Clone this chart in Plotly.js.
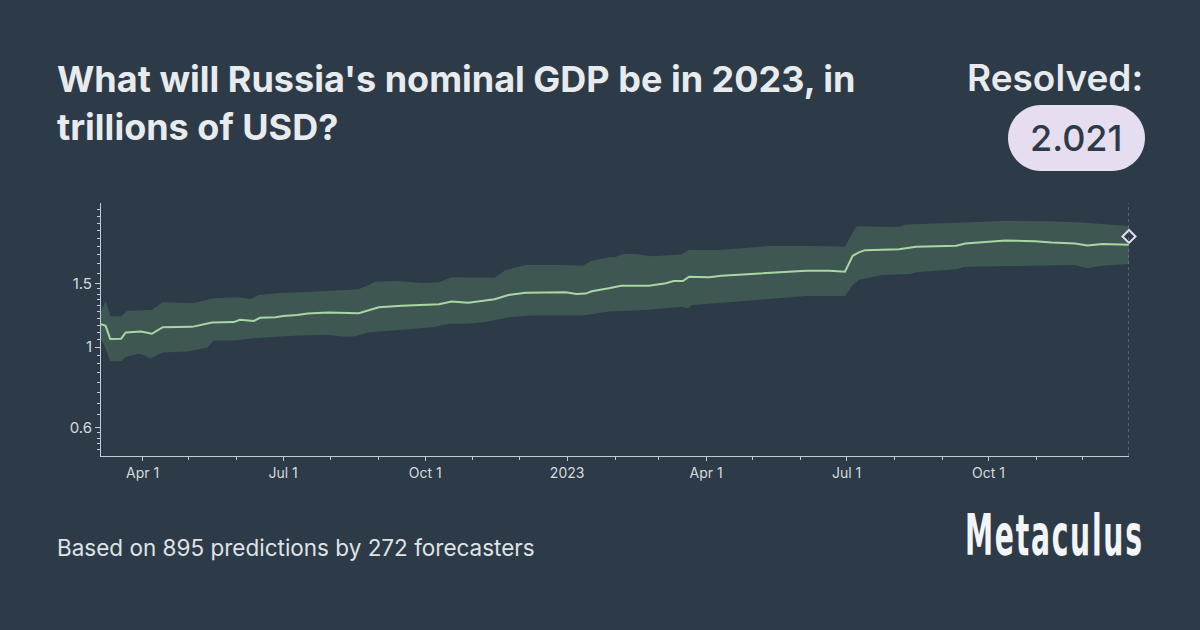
<!DOCTYPE html>
<html>
<head>
<meta charset="utf-8">
<script src="https://cdn.plot.ly/plotly-3.0.1.min.js"></script>
<style>
  html, body { margin: 0; padding: 0; background: #2d3a48; }
  #wrap { position: relative; width: 1200px; height: 630px; overflow: hidden; }
  #chart { position: absolute; left: 0; top: 0; width: 1200px; height: 630px; }
  #logo { position: absolute; left: 950px; top: 490px; overflow: visible; }
</style>
</head>
<body>
<div id="wrap">
  <div id="chart"></div>
  <svg id="logo" width="240" height="90" xmlns="http://www.w3.org/2000/svg">
    <g transform="translate(15,65) scale(0.56,1)">
      <text x="0" y="0" textLength="316" lengthAdjust="spacing"
        font-family="Liberation Sans Narrow, DejaVu Sans Condensed, sans-serif"
        font-weight="bold" font-size="56" fill="#f3f4f5">Metaculus</text>
    </g>
  </svg>
</div>
<script>
// ---- data ----
const medianDates = ['2022-03-05','2022-03-08','2022-03-11','2022-03-18','2022-03-21','2022-03-31','2022-04-07','2022-04-14','2022-05-03','2022-05-11','2022-05-16','2022-05-30','2022-06-03','2022-06-12','2022-06-16','2022-06-26','2022-07-01','2022-07-10','2022-07-17','2022-07-30','2022-08-16','2022-08-19','2022-09-01','2022-09-16','2022-10-10','2022-10-18','2022-10-29','2022-11-07','2022-11-15','2022-11-24','2022-12-05','2022-12-31','2023-01-07','2023-01-13','2023-01-17','2023-01-28','2023-02-05','2023-02-23','2023-03-06','2023-03-11','2023-03-17','2023-03-21','2023-04-03','2023-04-11','2023-05-10','2023-06-05','2023-06-20','2023-06-30','2023-07-05','2023-07-09','2023-07-13','2023-08-04','2023-08-15','2023-09-10','2023-09-16','2023-10-12','2023-10-31','2023-11-11','2023-11-26','2023-12-04','2023-12-14','2023-12-31'];
const medianVals = [1.157,1.144,1.052,1.054,1.097,1.104,1.088,1.135,1.137,1.159,1.169,1.172,1.189,1.181,1.204,1.209,1.219,1.227,1.237,1.245,1.243,1.240,1.288,1.301,1.313,1.335,1.326,1.338,1.355,1.393,1.413,1.417,1.402,1.405,1.426,1.453,1.477,1.477,1.500,1.522,1.522,1.564,1.558,1.574,1.598,1.625,1.625,1.614,1.787,1.826,1.852,1.864,1.892,1.904,1.933,1.970,1.961,1.945,1.933,1.909,1.925,1.916];

const upperDates = ['2022-03-05','2022-03-08','2022-03-11','2022-03-18','2022-03-22','2022-04-07','2022-04-14','2022-05-04','2022-05-14','2022-05-17','2022-06-01','2022-06-10','2022-06-15','2022-06-23','2022-06-29','2022-07-19','2022-08-16','2022-08-19','2022-08-30','2022-09-12','2022-09-29','2022-10-10','2022-10-18','2022-11-15','2022-11-22','2022-12-05','2022-12-29','2023-01-11','2023-01-17','2023-01-28','2023-02-01','2023-02-06','2023-02-14','2023-02-25','2023-03-16','2023-03-21','2023-04-07','2023-05-14','2023-06-20','2023-06-30','2023-07-05','2023-07-08','2023-08-04','2023-08-08','2023-09-16','2023-10-08','2023-11-09','2023-12-01','2023-12-31'];
const upperVals = [1.253,1.341,1.219,1.214,1.259,1.266,1.330,1.322,1.355,1.364,1.373,1.358,1.393,1.402,1.411,1.422,1.438,1.444,1.515,1.522,1.503,1.510,1.558,1.554,1.632,1.684,1.684,1.677,1.731,1.769,1.769,1.806,1.806,1.783,1.803,1.856,1.852,1.904,1.900,1.892,2.080,2.157,2.147,2.181,2.208,2.231,2.226,2.208,2.161];

const lowerDates = ['2022-03-05','2022-03-07','2022-03-11','2022-03-18','2022-03-21','2022-03-29','2022-04-01','2022-04-06','2022-04-14','2022-04-30','2022-05-13','2022-05-17','2022-05-30','2022-06-14','2022-07-08','2022-07-30','2022-08-08','2022-08-16','2022-08-25','2022-09-16','2022-10-06','2022-10-17','2022-10-29','2022-11-11','2022-11-24','2022-12-09','2023-01-11','2023-01-28','2023-02-04','2023-02-21','2023-03-16','2023-03-20','2023-03-23','2023-04-07','2023-05-10','2023-06-05','2023-06-30','2023-07-05','2023-07-09','2023-07-24','2023-08-11','2023-08-15','2023-09-10','2023-09-16','2023-10-08','2023-11-26','2023-12-04','2023-12-14','2023-12-31'];
const lowerVals = [1.047,1.015,0.913,0.913,0.939,0.958,0.952,0.930,0.966,0.972,0.997,1.043,1.043,1.059,1.074,1.081,1.070,1.070,1.097,1.116,1.135,1.159,1.159,1.176,1.209,1.222,1.222,1.253,1.261,1.266,1.293,1.280,1.307,1.322,1.355,1.384,1.384,1.484,1.532,1.581,1.591,1.608,1.639,1.667,1.677,1.684,1.650,1.677,1.695];

const resolvedDate = '2023-12-31';
const resolvedValue = 2.021;

const xTickVals = ['2022-04-01','2022-07-01','2022-10-01','2023-01-01','2023-04-01','2023-07-01','2023-10-01'];
const xTickText = ['Apr 1','Jul 1','Oct 1','2023','Apr 1','Jul 1','Oct 1'];
const yTickVals = [0.6, 1, 1.5];
const yTickText = ['0.6', '1', '1.5'];
const yMinorVals = [0.52,0.54,0.56,0.58,0.65,0.7,0.75,0.8,0.85,0.9,0.95,1.05,1.1,1.15,1.2,1.25,1.3,1.35,1.4,1.45,1.6,1.7,1.8,1.9,2.0,2.1,2.2,2.3,2.4];

const titleLine1 = "What will Russia's nominal GDP be in 2023, in";
const titleLine2 = "trillions of USD?";
const footerText = 'Based on 895 predictions by 272 forecasters';

// ---- layout helpers (pixel -> paper) ----
const M = {l: 101, r: 71, t: 203, b: 174};
const PW = 1200 - M.l - M.r, PH = 630 - M.t - M.b;
const px = x => (x - M.l) / PW;
const py = y => (630 - M.b - y) / PH;

function pillPath(x0, y0, x1, y1) {
  const r = (y1 - y0) / 2, k = 0.5523 * r;
  const P = (x, y) => px(x).toFixed(5) + ',' + py(y).toFixed(5);
  const xl = x0 + r, xr = x1 - r, ym = (y0 + y1) / 2;
  return 'M' + P(xl, y0) + ' L' + P(xr, y0) +
    ' C' + P(xr + k, y0) + ' ' + P(x1, ym - k) + ' ' + P(x1, ym) +
    ' C' + P(x1, ym + k) + ' ' + P(xr + k, y1) + ' ' + P(xr, y1) +
    ' L' + P(xl, y1) +
    ' C' + P(xl - k, y1) + ' ' + P(x0, ym + k) + ' ' + P(x0, ym) +
    ' C' + P(x0, ym - k) + ' ' + P(xl - k, y0) + ' ' + P(xl, y0) + ' Z';
}

const BG = '#2d3a48';
const AX = '#c5cbd2';

const band = {
  x: upperDates.concat(lowerDates.slice().reverse()),
  y: upperVals.concat(lowerVals.slice().reverse()),
  type: 'scatter', mode: 'lines', fill: 'toself',
  fillcolor: '#3f5753', line: {width: 0, color: 'rgba(0,0,0,0)'},
  hoverinfo: 'skip'
};
const median = {
  x: medianDates, y: medianVals, type: 'scatter', mode: 'lines',
  line: {color: '#a7d7a3', width: 2}, hoverinfo: 'skip'
};
const resolved = {
  x: [resolvedDate], y: [resolvedValue], type: 'scatter', mode: 'markers',
  marker: {symbol: 'diamond', size: 10, color: BG, line: {color: '#e6def0', width: 2}},
  hoverinfo: 'skip', cliponaxis: false
};

const layout = {
  width: 1200, height: 630,
  margin: M,
  paper_bgcolor: BG, plot_bgcolor: BG,
  showlegend: false,
  font: {family: 'Inter, sans-serif', color: AX},
  xaxis: {
    type: 'date',
    range: ['2022-03-05', '2023-12-31'],
    showgrid: false, zeroline: false,
    showline: true, linecolor: AX, linewidth: 1,
    tickmode: 'array', tickvals: xTickVals, ticktext: xTickText,
    ticks: 'outside', ticklen: 4, tickcolor: AX, tickwidth: 1,
    tickfont: {size: 14, color: '#d6dade'},
    minor: {dtick: 'M1', tick0: '2022-01-01', ticks: 'outside', ticklen: 3, tickcolor: AX, showgrid: false},
    fixedrange: true
  },
  yaxis: {
    type: 'log',
    range: [Math.log10(0.5), Math.log10(2.5)],
    showgrid: false, zeroline: false,
    showline: true, linecolor: AX, linewidth: 1,
    tickmode: 'array', tickvals: yTickVals, ticktext: yTickText,
    ticks: 'outside', ticklen: 5, tickcolor: AX, tickwidth: 1,
    tickfont: {size: 15, color: '#d6dade'},
    minor: {tickmode: 'array', tickvals: yMinorVals, ticks: 'outside', ticklen: 3, tickcolor: AX, showgrid: false},
    fixedrange: true
  },
  shapes: [
    {type: 'line', xref: 'x', yref: 'paper', x0: resolvedDate, x1: resolvedDate, y0: 0, y1: 1,
     line: {color: '#7f8a96', width: 1, dash: 'dot'}},
    {type: 'path', xref: 'paper', yref: 'paper', path: pillPath(1008, 105, 1145, 171),
     fillcolor: '#e6def0', line: {width: 0}, layer: 'above'}
  ],
  annotations: [
    {xref: 'paper', yref: 'paper', x: px(55), y: py(79), xanchor: 'left', yanchor: 'middle',
     text: titleLine1, showarrow: false, align: 'left',
     font: {family: 'Inter, sans-serif', size: 36, weight: 700, color: '#e8ebee'}},
    {xref: 'paper', yref: 'paper', x: px(55), y: py(127), xanchor: 'left', yanchor: 'middle',
     text: titleLine2, showarrow: false, align: 'left',
     font: {family: 'Inter, sans-serif', size: 36, weight: 700, color: '#e8ebee'}},
    {xref: 'paper', yref: 'paper', x: px(1145), y: py(78), xanchor: 'right', yanchor: 'middle',
     text: 'Resolved:', showarrow: false,
     font: {family: 'Inter, sans-serif', size: 37, weight: 600, color: '#e8ebee'}},
    {xref: 'paper', yref: 'paper', x: px(1076.5), y: py(138), xanchor: 'center', yanchor: 'middle',
     text: String(resolvedValue), showarrow: false,
     font: {family: 'Inter, sans-serif', size: 36, weight: 500, color: '#2d3a48'}},
    {xref: 'paper', yref: 'paper', x: px(55), y: py(547), xanchor: 'left', yanchor: 'middle',
     text: footerText, showarrow: false,
     font: {family: 'Inter, sans-serif', size: 22.5, weight: 400, color: '#dfe3e7'}}
  ]
};

Plotly.newPlot('chart', [band, median, resolved], layout, {staticPlot: true, displayModeBar: false});
</script>
</body>
</html>
